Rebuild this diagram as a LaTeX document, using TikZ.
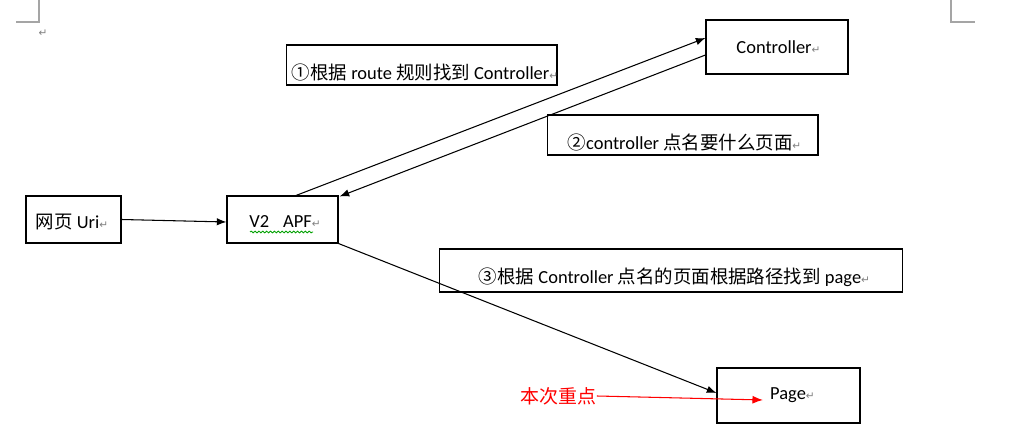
\documentclass[tikz,border=0pt]{standalone}
\usepackage{fontspec}
\setmainfont{Carlito}
\newfontfamily\cjk{Noto Sans CJK SC}
\newfontfamily\symf{DejaVu Sans}
\usetikzlibrary{arrows.meta,calc,decorations.pathmorphing}
\definecolor{pmgray}{RGB}{128,128,128}
\definecolor{cornergray}{RGB}{165,165,165}
\definecolor{squig}{RGB}{0,160,0}
\newcommand\pmark{{\color{pmgray}\symf\fontsize{6}{7}\selectfont ↵}}
\begin{document}
\begin{tikzpicture}[x=0.02cm,y=-0.02cm,
  box/.style={draw, line width=0.6pt, inner sep=0pt},
  txt/.style={inner sep=0pt, font=\fontsize{10.5}{12}\selectfont},
  arr/.style={line width=0.6pt, -{Latex[length=5.5pt,width=4.2pt]}},
  corner/.style={draw=cornergray, line width=0.6pt}]
\useasboundingbox (0,0) rectangle (1012,431);
% page corner marks
\draw[corner] (39,0) -- (39,22) -- (16,22);
\draw[corner] (951,0) -- (951,22) -- (975,22);
\node[inner sep=0pt] (pm0) at (43,33) {\pmark};
% boxes
\node[box, minimum width=1.9cm, minimum height=0.94cm] (uri) at (73.5,219.5) {};
\node[box, minimum width=2.22cm, minimum height=0.94cm] (apf) at (282.5,219.5) {};
\node[box, minimum width=5.42cm, minimum height=0.80cm] (l1) at (421.5,65) {};
\node[box, minimum width=2.84cm, minimum height=1.08cm] (ctrl) at (777,47) {};
\node[box, minimum width=5.42cm, minimum height=0.80cm] (l2) at (682.5,135) {};
\node[box, minimum width=9.28cm, minimum height=0.86cm] (l3) at (671,270.5) {};
\node[box, minimum width=2.86cm, minimum height=1.10cm] (page) at (788.5,395.5) {};
% texts
\node[txt] (urit) at (72,222) {{\cjk 网页} Uri\pmark};
\node[txt] (apft) at (285,222) {V2\hspace{0.28cm}APF\pmark};
\draw[squig, line width=0.5pt, decorate, decoration={snake, amplitude=0.5pt, segment length=2.2pt}] (250,232) -- (313,232);
\node[txt] (l1t) at (425,72) {{\cjk ①根据} route {\cjk 规则找到} Controller\pmark};
\node[txt] (ctrlt) at (778.5,47) {Controller\pmark};
\node[txt] (l2t) at (684.5,142) {{\cjk ②}controller {\cjk 点名要什么页面}\pmark};
\node[txt] (l3t) at (674.5,277) {{\cjk ③根据} Controller {\cjk 点名的页面根据路径找到} page\pmark};
\node[txt] (paget) at (792.5,395) {Page\pmark};
\node[txt, text=red, font=\fontsize{10.8}{13}\selectfont\cjk] (zd) at (558.5,396) {本次重点};
% connectors
\draw[arr] (uri.east) -- ($(apf.west)+(0,2.5)$);
\draw[arr] ($(apf.north)+(13.5,0)$) -- ($(ctrl.west)+(0,-9)$);
\draw[arr] ($(ctrl.west)+(0,8)$) -- ($(apf.north east)+(1,1)$);
\draw[arr] (apf.south east) -- ($(page.west)+(0,-2.5)$);
\coordinate (rmid) at (660,397.5);
\coordinate (rend) at (763,400);
\draw[red, line width=0.6pt, -{Latex[length=6pt,width=4.5pt]}] (zd.east) -- (rmid) -- (rend);
\end{tikzpicture}
\end{document}
